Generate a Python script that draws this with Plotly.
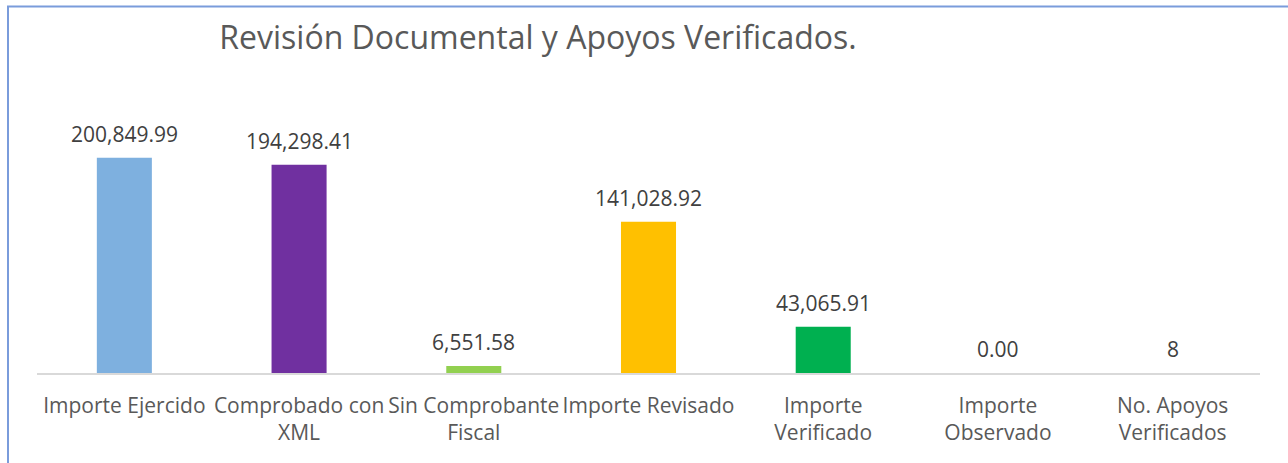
import plotly.graph_objects as go

categories = ["Importe Ejercido", "Comprobado con XML", "Sin Comprobante Fiscal",
              "Importe Revisado", "Importe Verificado", "Importe Observado",
              "No. Apoyos Verificados"]
tick_labels = ["Importe Ejercido", "Comprobado con<br>XML", "Sin Comprobante<br>Fiscal",
               "Importe Revisado", "Importe<br>Verificado", "Importe<br>Observado",
               "No. Apoyos<br>Verificados"]
values = [200849.99, 194298.41, 6551.58, 141028.92, 43065.91, 0.00, 8]
value_labels = ["200,849.99", "194,298.41", "6,551.58", "141,028.92", "43,065.91", "0.00", "8"]
colors = ["#7EB0DF", "#7030A0", "#92D050", "#FFC000", "#00B050",
          "rgba(0,0,0,0)", "rgba(0,0,0,0)"]

FONT = "Open Sans"

fig = go.Figure()
fig.add_trace(go.Bar(x=categories, y=values, marker=dict(color=colors, line=dict(width=0)),
                     width=0.315, hoverinfo="skip"))

for c, v, t in zip(categories, values, value_labels):
    fig.add_annotation(x=c, y=v, text=t, showarrow=False, yanchor="middle", yshift=24,
                       font=dict(family=FONT, size=21, color="#404040"))

L, R, T, B = 37, 28, 105, 90
W, H = 1288, 463
pw = W - L - R
ph = H - T - B

# outer chart border (extends beyond visible area on right and bottom)
fig.add_shape(type="rect", xref="paper", yref="paper",
              x0=(8 - L) / pw, x1=1.2, y0=-1.0, y1=(H - B - 6.5) / ph,
              line=dict(color="#7A9CDB", width=2), fillcolor="rgba(0,0,0,0)", layer="below")

fig.update_layout(
    width=W, height=H,
    margin=dict(l=L, r=R, t=T, b=B),
    paper_bgcolor="white", plot_bgcolor="white",
    showlegend=False,
    title=dict(text="Revisión Documental y Apoyos Verificados.", x=538 / W, xanchor="center",
               y=1 - 38 / H, yanchor="middle", xref="container", yref="container",
               font=dict(family=FONT, size=32, color="#595959")),
    xaxis=dict(tickmode="array", tickvals=categories, ticktext=tick_labels,
               showline=True, linecolor="#D9D9D9", linewidth=1.5, ticks="",
               ticklabelstandoff=13,
               tickfont=dict(family=FONT, size=21, color="#595959"), showgrid=False,
               zeroline=False),
    yaxis=dict(range=[0, 250000], visible=False, showgrid=False, zeroline=False),
)

fig.write_html("out.html", config={"displayModeBar": False},
               post_script="document.body.style.margin='0';")
